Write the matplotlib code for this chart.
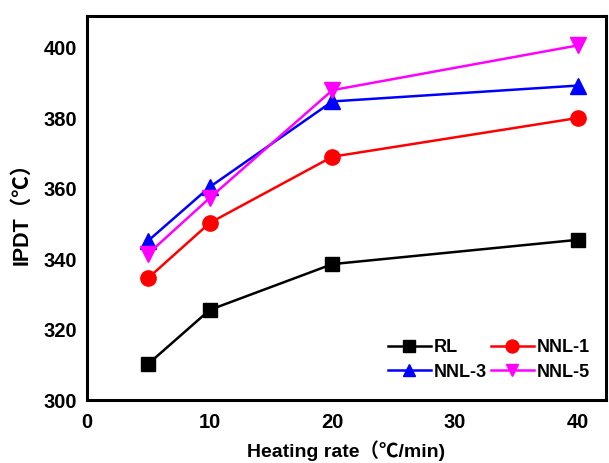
import matplotlib
matplotlib.use("Agg")
import matplotlib.pyplot as plt

plt.rcParams['font.family'] = ['Liberation Sans', 'Noto Sans CJK SC', 'DejaVu Sans']
plt.rcParams['font.weight'] = 'bold'

heating_rate = [5, 10, 20, 40]
rl = [310.3, 325.6, 338.6, 345.5]
nnl1 = [334.7, 350.3, 369.1, 380.1]
nnl3 = [345.3, 360.5, 384.8, 389.3]
nnl5 = [341.6, 357.4, 388.0, 400.7]
series_names = ["RL", "NNL-1", "NNL-3", "NNL-5"]
x_ticks = [0, 10, 20, 30, 40]
y_ticks = [300, 320, 340, 360, 380, 400]

fig = plt.figure(figsize=(6.09, 4.63), dpi=100)
ax = fig.add_axes([0.143, 0.136, 0.852, 0.829])

styles = [("black", "s", 10), ("red", "o", 11), ("blue", "^", 11), ("magenta", "v", 11)]
handles = []
for vals, name, (c, m, ms) in zip([rl, nnl1, nnl3, nnl5], series_names, styles):
    h, = ax.plot(heating_rate, vals, color=c, marker=m, markersize=ms, linewidth=1.8, label=name)
    handles.append(h)

ax.set_xlim(0, 42.3)
ax.set_ylim(300, 409)
ax.set_xticks(x_ticks)
ax.set_yticks(y_ticks)
ax.tick_params(length=0, labelsize=14.5)
ax.tick_params(axis='x', pad=9)
ax.tick_params(axis='y', pad=7)
for lab in ax.get_xticklabels() + ax.get_yticklabels():
    lab.set_fontweight('bold')
for s in ax.spines.values():
    s.set_linewidth(2.2)

ax.set_xlabel("Heating rate（℃/min)", fontsize=14, fontweight='bold', va='center')
ax.xaxis.set_label_coords(0.5, -0.133)
ax.set_ylabel("IPDT（℃）", fontsize=15.5, fontweight='bold', labelpad=8)

order = [0, 2, 1, 3]
ax.legend([handles[i] for i in order], [series_names[i] for i in order],
          loc='lower right', ncol=2, frameon=False, prop={'weight': 'bold', 'size': 13},
          handlelength=2.4, handletextpad=0.15, columnspacing=0.2, labelspacing=0.4,
          markerscale=0.85, bbox_to_anchor=(1.0, 0.008))

fig.savefig("out.png", dpi=100)
